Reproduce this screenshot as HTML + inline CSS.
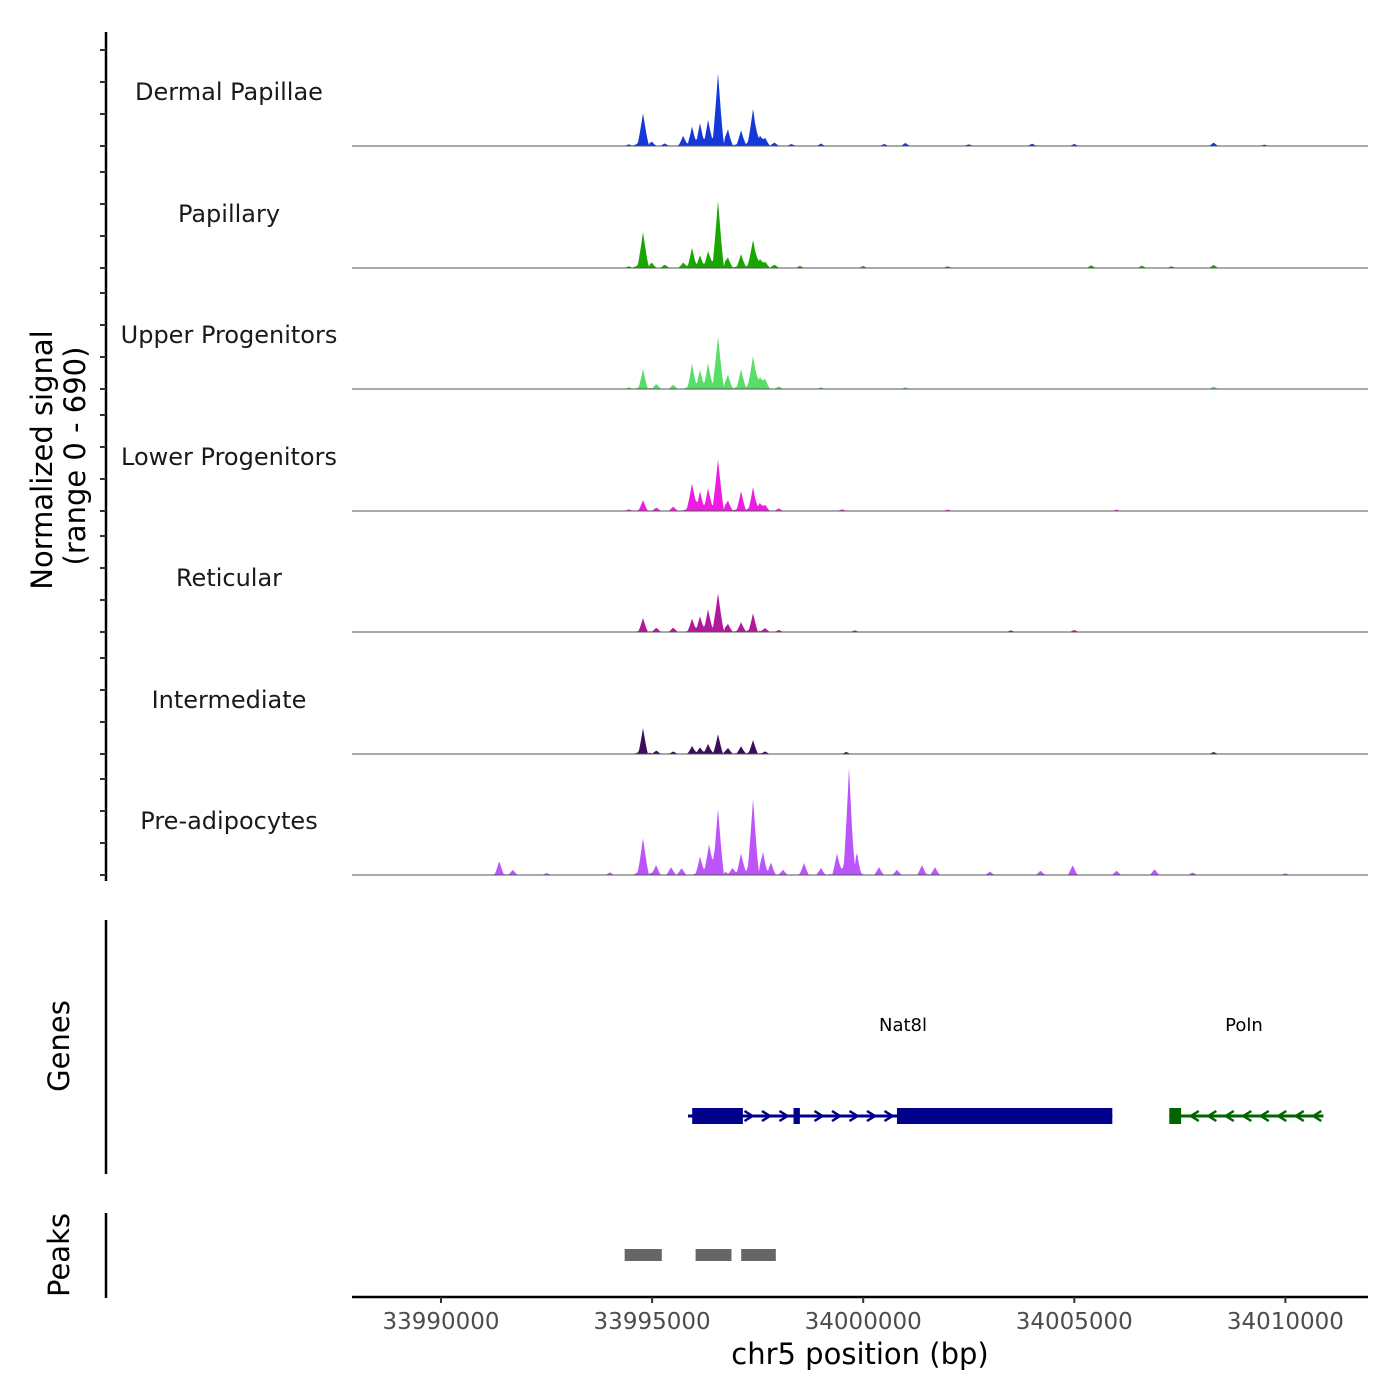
<!DOCTYPE html>
<html><head><meta charset="utf-8"><style>
body{margin:0;background:#fff}
svg{display:block;font-family:"DejaVu Sans","Liberation Sans",sans-serif}
</style></head><body>
<svg id="c" width="1400" height="1400" viewBox="0 0 1400 1400"></svg>
<script>
const trackNames=["Dermal Papillae","Papillary","Upper Progenitors","Lower Progenitors","Reticular","Intermediate","Pre-adipocytes"];
const trackColors=["#1439d8","#1aa600","#58dd66","#ee1ce0","#b2189e","#3b0e5c","#bb55fb"];
// peak positions (bp) and signal values per track
const peakPosDP=[33994450,33994785,33995000,33995300,33995733,33995946,33996135,33996325,33996562,33996799,33997107,33997391,33997550,33997675,33997900,33998300,33999000,34000500,34001000,34002500,34004000,34005000,34008300,34009500];
const peakValDP=[10,187,20,15,57,108,125,142,415,91,91,210,50,45,20,12,14,12,18,10,14,12,20,8];
const peakPosPap=[33994450,33994785,33995000,33995300,33995733,33995946,33996135,33996325,33996562,33996799,33997107,33997391,33997550,33997675,33997900,33998500,34000000,34002000,34005400,34006600,34007300,34008300];
const peakValPap=[10,205,25,20,30,114,68,91,386,57,80,159,45,34,20,12,12,10,16,14,10,18];
const peakPosUp=[33994450,33994785,33995100,33995500,33995946,33996135,33996325,33996562,33996799,33997107,33997391,33997550,33997675,33998000,33999000,34001000,34008300];
const peakValUp=[10,114,30,25,142,102,142,301,80,114,187,60,57,15,10,10,14];
const peakPosLo=[33994450,33994785,33995100,33995500,33995946,33996135,33996325,33996562,33996799,33997107,33997391,33997550,33997675,33998000,33999500,34002000,34006000];
const peakValLo=[10,62,20,25,153,102,125,295,57,114,136,40,34,15,10,8,8];
const peakPosRet=[33994785,33995100,33995500,33995946,33996135,33996325,33996562,33996799,33997107,33997391,33997675,33998000,33999800,34003500,34005000];
const peakValRet=[80,25,25,74,85,125,221,45,57,108,23,12,10,10,12];
const peakPosInt=[33994785,33995100,33995500,33995946,33996135,33996325,33996562,33996799,33997107,33997391,33997675,33999600,34008300];
const peakValInt=[148,20,15,45,35,57,114,35,45,80,15,12,12];
const peakPosPre=[33991380,33991700,33992500,33994000,33994785,33995093,33995449,33995700,33996135,33996349,33996562,33996900,33997107,33997391,33997628,33997817,33998100,33998598,33999000,33999379,33999664,33999853,34000374,34000800,34001392,34001700,34003000,34004200,34004961,34006000,34006900,34007800,34010000];
const peakValPre=[80,30,12,15,210,57,45,40,102,165,375,40,125,437,125,68,30,68,40,125,608,102,45,30,57,45,20,25,57,25,34,15,10];
const peakPos=[peakPosDP,peakPosPap,peakPosUp,peakPosLo,peakPosRet,peakPosInt,peakPosPre];
const peakVal=[peakValDP,peakValPap,peakValUp,peakValLo,peakValRet,peakValInt,peakValPre];
const xTicks=[33990000,33995000,34000000,34005000,34010000];
const genes=[{name:"Nat8l",start:33995850,end:34005900,strand:1,exons:[[33995950,33997150],[33998350,33998500],[34000800,34005900]],color:"#00008b",label:903},
             {name:"Poln",start:34007250,end:34010900,strand:-1,exons:[[34007250,34007530]],color:"#006400",label:1244}];
const peakRegions=[[33994350,33995230],[33996030,33996880],[33997110,33997930]];

const NS="http://www.w3.org/2000/svg";
const svg=document.getElementById('c');
function el(t,a,p){const e=document.createElementNS(NS,t);for(const k in a)e.setAttribute(k,a[k]);(p||svg).appendChild(e);return e;}
const X0=441,PX=0.04222,L=352,R=1368;
const xs=bp=>X0+(bp-33990000)*PX;
const baselines=[146,268,389,511,632,754,875];
const ys=(v,b)=>b-v*121.5/690;

let ax=el('line',{x1:106,y1:32,x2:106,y2:881,stroke:'#000','stroke-width':2.5});

baselines.forEach(b=>{[0,32,64,96].forEach(o=>{let t=el('line',{x1:100,y1:b-o,x2:106,y2:b-o,stroke:'#333','stroke-width':2});});});
let yl=el('text',{x:0,y:0,transform:'translate(52,460) rotate(-90)','text-anchor':'middle','font-size':29,fill:'#000'});

yl.textContent='Normalized signal';
let yl2=el('text',{x:0,y:0,transform:'translate(85,456) rotate(-90)','text-anchor':'middle','font-size':29,fill:'#000'});

yl2.textContent='(range 0 - 690)';

trackNames.forEach((n,i)=>{
  const b=baselines[i];
  const pos=peakPos[i],val=peakVal[i];
  let pts=[];
  for(let x=L;x<=R;x+=1){
    let v=0;
    for(let k=0;k<pos.length;k++){
      const d=Math.abs(x-xs(pos[k]));const w=val[k]>150?6:5;
      if(d<w){v+=val[k]*(1-d/w)**1.2;}
      else if(d<w+5){v+=val[k]*0.06*(1-(d-w)/5);}
    }
    pts.push(x+','+ys(v,b).toFixed(1));
  }
  let poly=el('polygon',{points:L+','+b+' '+pts.join(' ')+' '+R+','+b,fill:trackColors[i]});
  
  let bl=el('line',{x1:L,y1:b,x2:R,y2:b,stroke:'#555','stroke-width':1});
  
  let t=el('text',{x:229,y:b-46,'text-anchor':'middle','font-size':24,fill:'#1a1a1a'});
  
  t.textContent=n;
});

let ga=el('line',{x1:106,y1:920,x2:106,y2:1174,stroke:'#000','stroke-width':2.5});

let gt=el('text',{x:0,y:0,transform:'translate(69,1046) rotate(-90)','text-anchor':'middle','font-size':29});
gt.textContent='Genes';
genes.forEach(g=>{
  const y=1116;
  let ln=el('line',{x1:xs(g.start),y1:y,x2:xs(g.end),y2:y,stroke:g.color,'stroke-width':3});
  
  g.exons.forEach(e=>{let r=el('rect',{x:xs(e[0]),y:y-8,width:xs(e[1])-xs(e[0]),height:16,fill:g.color});
    });
  for(let x=xs(g.start)+8;x<xs(g.end)-4;x+=17.5){
    let inEx=g.exons.some(e=>x>xs(e[0])-4&&x<xs(e[1])+4);if(inEx)continue;
    const s=g.strand*4;
    let c=el('polyline',{points:(x-s)+','+(y-5)+' '+(x+s)+','+y+' '+(x-s)+','+(y+5),fill:'none',stroke:g.color,'stroke-width':2.5});
    
  }
  let lb=el('text',{x:g.label,y:1031,'text-anchor':'middle','font-size':18});
  lb.textContent=g.name;
});

let pa=el('line',{x1:106,y1:1213,x2:106,y2:1298,stroke:'#000','stroke-width':2.5});

let pt=el('text',{x:0,y:0,transform:'translate(69,1255) rotate(-90)','text-anchor':'middle','font-size':29});
pt.textContent='Peaks';
peakRegions.forEach(p=>{let r=el('rect',{x:xs(p[0]),y:1249,width:xs(p[1])-xs(p[0]),height:12,fill:'#666'});
  });

let xa=el('line',{x1:L,y1:1297,x2:R,y2:1297,stroke:'#000','stroke-width':2.5});

xTicks.forEach(v=>{
  let t=el('line',{x1:xs(v),y1:1297,x2:xs(v),y2:1303,stroke:'#333','stroke-width':2});
  
  let l=el('text',{x:xs(v),y:1329,'text-anchor':'middle','font-size':23,fill:'#4d4d4d'});
  l.textContent=v;
});
let xt=el('text',{x:860,y:1364,'text-anchor':'middle','font-size':29});
xt.textContent='chr5 position (bp)';
</script>
</body></html>
